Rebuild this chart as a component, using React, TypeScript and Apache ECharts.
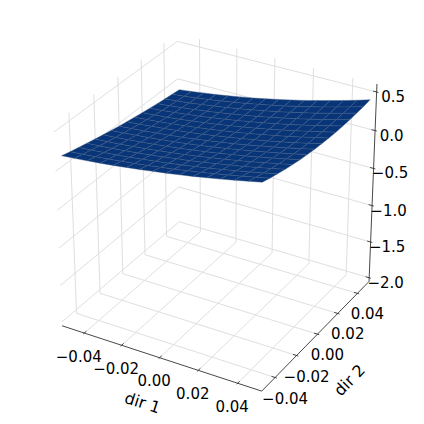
import React, { useEffect, useRef } from "react";
import * as echarts from "echarts";

const xLim = [-0.05, 0.05];
const yLim = [-0.05, 0.05];
const zLim = [-2, 0.55];
const xTicks = [-0.04, -0.02, 0, 0.02, 0.04];
const yTicks = [-0.04, -0.02, 0, 0.02, 0.04];
const zTicks = [-2, -1.5, -1, -0.5, 0, 0.5];
const xTickLabels = ["\u22120.04", "\u22120.02", "0.00", "0.02", "0.04"];
const yTickLabels = ["\u22120.04", "\u22120.02", "0.00", "0.02", "0.04"];
const zTickLabels = ["\u22122.0", "\u22121.5", "\u22121.0", "\u22120.5", "0.0", "0.5"];
const xLabel = "dir 1";
const yLabel = "dir 2";

// rows: dir 2 from -0.05 to 0.05, columns: dir 1 from -0.05 to 0.05
const zRows = [
  [0.19, 0.204, 0.22, 0.237, 0.256, 0.277, 0.299, 0.323, 0.348, 0.375, 0.403, 0.434, 0.465, 0.499, 0.533, 0.57],
  [0.162, 0.175, 0.19, 0.207, 0.226, 0.246, 0.267, 0.291, 0.316, 0.343, 0.371, 0.401, 0.432, 0.466, 0.5, 0.537],
  [0.135, 0.148, 0.163, 0.179, 0.197, 0.217, 0.239, 0.262, 0.287, 0.313, 0.341, 0.371, 0.402, 0.436, 0.471, 0.507],
  [0.109, 0.122, 0.136, 0.153, 0.171, 0.19, 0.211, 0.235, 0.259, 0.286, 0.314, 0.344, 0.375, 0.409, 0.444, 0.48],
  [0.084, 0.097, 0.111, 0.127, 0.145, 0.165, 0.186, 0.209, 0.234, 0.261, 0.289, 0.319, 0.351, 0.385, 0.42, 0.457],
  [0.061, 0.073, 0.088, 0.104, 0.122, 0.142, 0.163, 0.186, 0.211, 0.238, 0.267, 0.297, 0.329, 0.363, 0.399, 0.437],
  [0.038, 0.051, 0.066, 0.082, 0.1, 0.12, 0.142, 0.165, 0.191, 0.218, 0.247, 0.278, 0.311, 0.345, 0.381, 0.42],
  [0.017, 0.03, 0.045, 0.062, 0.08, 0.1, 0.123, 0.147, 0.173, 0.2, 0.23, 0.261, 0.295, 0.33, 0.367, 0.406],
  [-0.003, 0.01, 0.026, 0.043, 0.062, 0.083, 0.105, 0.13, 0.157, 0.185, 0.215, 0.247, 0.281, 0.317, 0.355, 0.395],
  [-0.022, -0.008, 0.008, 0.026, 0.045, 0.067, 0.09, 0.116, 0.143, 0.172, 0.203, 0.236, 0.271, 0.308, 0.347, 0.388],
  [-0.039, -0.025, -0.008, 0.01, 0.03, 0.053, 0.077, 0.103, 0.131, 0.162, 0.194, 0.228, 0.264, 0.302, 0.341, 0.383],
  [-0.056, -0.041, -0.023, -0.004, 0.017, 0.04, 0.066, 0.093, 0.122, 0.153, 0.186, 0.222, 0.259, 0.298, 0.339, 0.382],
  [-0.071, -0.055, -0.037, -0.017, 0.006, 0.03, 0.056, 0.085, 0.115, 0.148, 0.182, 0.218, 0.257, 0.297, 0.34, 0.384],
  [-0.085, -0.068, -0.049, -0.027, -0.004, 0.022, 0.049, 0.079, 0.11, 0.144, 0.18, 0.218, 0.258, 0.3, 0.344, 0.39],
  [-0.098, -0.08, -0.059, -0.037, -0.012, 0.015, 0.044, 0.075, 0.108, 0.143, 0.18, 0.22, 0.261, 0.305, 0.35, 0.398],
  [-0.11, -0.09, -0.068, -0.044, -0.018, 0.01, 0.04, 0.073, 0.108, 0.144, 0.183, 0.225, 0.268, 0.313, 0.36, 0.41],
];

// matplotlib-style camera
const ELEV = (30 * Math.PI) / 180;
const AZIM = (-60 * Math.PI) / 180;
const DIST = 10;
const SCALE = 2213;
const CX = 218;
const CY = 206;
const PANE = 1 / 48; // pane overshoot of the box

const nV = [Math.cos(ELEV) * Math.cos(AZIM), Math.cos(ELEV) * Math.sin(AZIM), Math.sin(ELEV)];
const uLen = Math.hypot(nV[0], nV[1]);
const uV = [-nV[1] / uLen, nV[0] / uLen, 0];
const vV = [
  nV[1] * uV[2] - nV[2] * uV[1],
  nV[2] * uV[0] - nV[0] * uV[2],
  nV[0] * uV[1] - nV[1] * uV[0],
];
const dot = (a: number[], b: number[]) => a[0] * b[0] + a[1] * b[1] + a[2] * b[2];

// box coordinates: 0..1 inside limits
const bx = (v: number) => (v - xLim[0]) / (xLim[1] - xLim[0]);
const by = (v: number) => (v - yLim[0]) / (yLim[1] - yLim[0]);
const bz = (v: number) => (v - zLim[0]) / (zLim[1] - zLim[0]);
const projectBox = (a: number, b: number, c: number) => {
  const p = [a - 0.5, b - 0.5, c - 0.5];
  const d = DIST - dot(p, nV);
  return [CX + (SCALE * dot(p, uV)) / d, CY - (SCALE * dot(p, vV)) / d, d];
};
const LO = -PANE;
const HI = 1 + PANE;

const nX = zRows[0].length;
const nY = zRows.length;
const xAt = (i: number) => xLim[0] + ((xLim[1] - xLim[0]) * i) / (nX - 1);
const yAt = (j: number) => yLim[0] + ((yLim[1] - yLim[0]) * j) / (nY - 1);
const surf = (i: number, j: number) => projectBox(bx(xAt(i)), by(yAt(j)), bz(zRows[j][i]));

const cells: number[][] = [];
for (let j = 0; j < nY - 1; j++) {
  for (let i = 0; i < nX - 1; i++) {
    const d = (surf(i, j)[2] + surf(i + 1, j)[2] + surf(i + 1, j + 1)[2] + surf(i, j + 1)[2]) / 4;
    cells.push([i, j, d]);
  }
}
cells.sort((a, b) => b[2] - a[2]);

const gridPaths: number[][][] = [
  ...xTicks.map((t) => [[bx(t), LO, LO], [bx(t), HI, LO], [bx(t), HI, HI]]),
  ...yTicks.map((t) => [[HI, by(t), LO], [LO, by(t), LO], [LO, by(t), HI]]),
  ...zTicks.map((t) => [[LO, LO, bz(t)], [LO, HI, bz(t)], [HI, HI, bz(t)]]),
];
const axisPaths: number[][][] = [
  [[LO, LO, LO], [HI, LO, LO]],
  [[HI, LO, LO], [HI, HI, LO]],
  [[HI, HI, LO], [HI, HI, HI]],
];
const TICK_OUT = 0.009;
const TICK_IN = 0.018;
const tickPaths: number[][][] = [
  ...xTicks.map((t) => [[bx(t), LO - TICK_OUT, LO], [bx(t), LO + TICK_IN, LO]]),
  ...yTicks.map((t) => [[HI + TICK_OUT, by(t), LO], [HI - TICK_IN, by(t), LO]]),
  ...zTicks.map((t) => [[HI + TICK_OUT, HI, bz(t)], [HI - TICK_IN, HI, bz(t)]]),
];
const FONT = '15px "DejaVu Sans"';
const LABEL_FONT = '16px "DejaVu Sans"';
const labelItems: { text: string; box: number[]; dx: number; dy: number }[] = [
  ...xTicks.map((t, i) => ({ text: xTickLabels[i], box: [bx(t), LO, LO], dx: -5.5, dy: 23.5 })),
  ...yTicks.map((t, i) => ({ text: yTickLabels[i], box: [HI, by(t), LO], dx: 10, dy: 21 })),
  ...zTicks.map((t, i) => ({ text: zTickLabels[i], box: [HI, HI, bz(t)], dx: 16.5, dy: 5 })),
];

const pts = (path: number[][]) =>
  path.map((q) => {
    const s = projectBox(q[0], q[1], q[2]);
    return [s[0], s[1]];
  });

const lineSeries = (name: string, paths: number[][][], stroke: string, lineWidth: number) => ({
  type: "custom",
  name,
  coordinateSystem: "none",
  silent: true,
  data: paths.map((_, k) => [k]),
  renderItem: (_: any, api: any) => ({
    type: "polyline",
    shape: { points: pts(paths[api.value(0)]) },
    style: { stroke, fill: "none", lineWidth },
  }),
});

export default function App() {
  const ref = useRef<HTMLDivElement>(null);
  useEffect(() => {
    document.body.style.margin = "0";
    const chart = echarts.init(ref.current!, undefined, { renderer: "svg" });
    chart.setOption({
      animation: false,
      backgroundColor: "#ffffff",
      series: [
        lineSeries("grid", gridPaths, "#dfdfdf", 1),
        lineSeries("axes", axisPaths, "#333333", 0.9),
        lineSeries("ticks", tickPaths, "#333333", 0.9),
        {
          type: "custom",
          name: "surface",
          coordinateSystem: "none",
          silent: true,
          data: cells.map((c) => [c[0], c[1]]),
          renderItem: (_: any, api: any) => {
            const i = api.value(0);
            const j = api.value(1);
            const corners = [surf(i, j), surf(i + 1, j), surf(i + 1, j + 1), surf(i, j + 1)];
            return {
              type: "polygon",
              shape: { points: corners.map((s) => [s[0], s[1]]) },
              style: { fill: "#083577", stroke: "#3f5a85", lineWidth: 0.4 },
            };
          },
        },
        {
          type: "custom",
          name: "tickLabels",
          coordinateSystem: "none",
          silent: true,
          data: labelItems.map((_, k) => [k]),
          renderItem: (_: any, api: any) => {
            const it = labelItems[api.value(0)];
            const s = projectBox(it.box[0], it.box[1], it.box[2]);
            return {
              type: "text",
              x: s[0] + it.dx,
              y: s[1] + it.dy,
              style: { text: it.text, font: FONT, fill: "#000", align: "center", verticalAlign: "middle" },
            };
          },
        },
        {
          type: "custom",
          name: "axisLabels",
          coordinateSystem: "none",
          silent: true,
          data: [[0], [1]],
          renderItem: (_: any, api: any) => {
            const k = api.value(0);
            const a = k === 0 ? projectBox(0.5, LO, LO) : projectBox(HI, 0.5, LO);
            return {
              type: "text",
              x: a[0] + (k === 0 ? -17 : 32),
              y: a[1] + (k === 0 ? 45 : 46),
              rotation: k === 0 ? -0.31 : 0.8,
              style: { text: k === 0 ? xLabel : yLabel, font: LABEL_FONT, fill: "#000", align: "center", verticalAlign: "middle" },
            };
          },
        },
      ],
    });
    return () => chart.dispose();
  }, []);
  return <div ref={ref} style={{ width: 424, height: 424 }} />;
}
